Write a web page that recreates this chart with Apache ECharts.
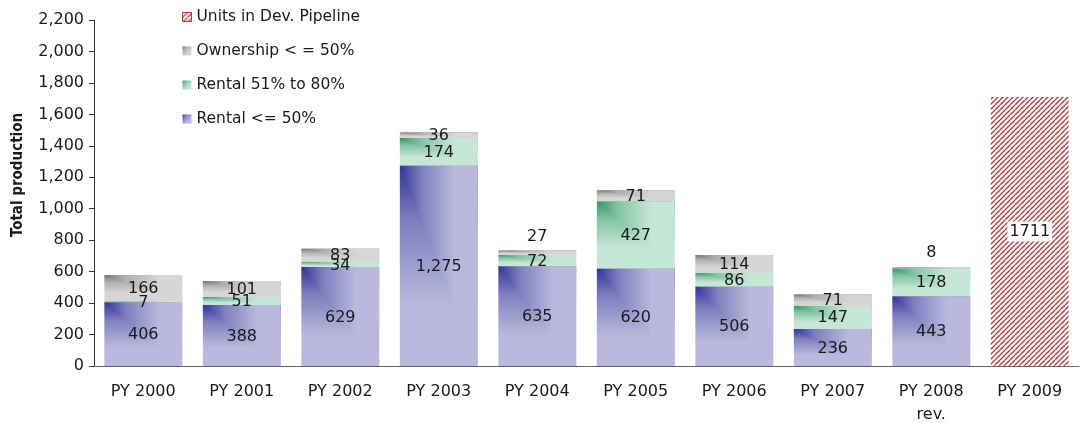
<!DOCTYPE html>
<html>
<head>
<meta charset="utf-8">
<script src="https://cdn.jsdelivr.net/npm/echarts@6/dist/echarts.min.js"></script>
<style>
  html, body { margin: 0; padding: 0; background: #fff; }
  #chart { width: 1081px; height: 423px; }
</style>
</head>
<body>
<div id="chart"></div>
<script>
// 数据
var categories = ["PY 2000", "PY 2001", "PY 2002", "PY 2003", "PY 2004", "PY 2005", "PY 2006", "PY 2007", "PY 2008\nrev.", "PY 2009"];
var rentalLow = [406, 388, 629, 1275, 635, 620, 506, 236, 443, null];
var rentalMid = [7, 51, 34, 174, 72, 427, 86, 147, 178, null];
var ownership = [166, 101, 83, 36, 27, 71, 114, 71, 8, null];
var pipeline = [null, null, null, null, null, null, null, null, null, 1711];
var yTicks = [0, 200, 400, 600, 800, 1000, 1200, 1400, 1600, 1800, 2000, 2200];

var FONT = "DejaVu Sans";
var FS = 16;
var BAR_RATIO = 0.79;

// 颜色（深色在左上角）
var COLORS = {
  low: ["#333399", "#7f7fbf", "#b9b9dd"],
  mid: ["#339966", "#86c5a5", "#c6e6d6"],
  own: ["#777777", "#b0b0b0", "#d6d6d6"]
};

function grad(c, x2, y2) {
  return new echarts.graphic.LinearGradient(0, 0, x2, y2, [
    { offset: 0, color: c[0] },
    { offset: 0.28, color: c[1] },
    { offset: 0.7, color: c[2] },
    { offset: 1, color: c[2] }
  ]);
}

// 斜线填充
var hatch = document.createElement("canvas");
hatch.width = 5;
hatch.height = 5;
var hc = hatch.getContext("2d");
hc.fillStyle = "#ffffff";
hc.fillRect(0, 0, 5, 5);
hc.strokeStyle = "#ad3a3a";
hc.lineWidth = 1.3;
[-5, 0, 5].forEach(function (o) {
  hc.beginPath();
  hc.moveTo(o, 5);
  hc.lineTo(o + 5, 0);
  hc.stroke();
});

// 堆叠底部
var baseMid = rentalLow.map(function (v) { return v || 0; });
var baseOwn = rentalLow.map(function (v, i) { return (v || 0) + (rentalMid[i] || 0); });
var zeros = rentalLow.map(function () { return 0; });

function layerData(values, bases) {
  var out = [];
  values.forEach(function (v, i) {
    if (v != null) out.push([i, bases[i], bases[i] + v, v]);
  });
  return out;
}

function makeRender(colors, labelAbove) {
  return function (params, api) {
    var i = api.value(0);
    var lo = api.value(1);
    var hi = api.value(2);
    var v = api.value(3);
    var p0 = api.coord([i, lo]);
    var p1 = api.coord([i, hi]);
    var w = api.size([1, 0])[0] * BAR_RATIO;
    var x0 = p0[0] - w / 2;
    var x1 = x0 + w;
    var yTop = p1[1];
    var yBot = p0[1];
    var above = labelAbove && labelAbove.indexOf(i) >= 0;
    return {
      type: "group",
      children: [
        {
          // 下半：竖向渐变
          type: "rect",
          shape: { x: x0, y: yTop, width: w, height: yBot - yTop },
          style: { fill: grad(colors, 0, 1) }
        },
        {
          // 右上三角：横向渐变
          type: "polygon",
          shape: { points: [[x0, yTop], [x1, yTop], [x1, yBot]] },
          style: { fill: grad(colors, 1, 0) }
        },
        {
          type: "text",
          z2: 100,
          style: {
            text: v.toLocaleString("en-US"),
            x: p0[0],
            y: above ? yTop - 14 : (yTop + yBot) / 2 + 1,
            align: "center",
            verticalAlign: "middle",
            fontFamily: FONT,
            fontSize: FS,
            fill: "#1a1a1a"
          }
        }
      ]
    };
  };
}

var chart = echarts.init(document.getElementById("chart"));

chart.setOption({
  animation: false,
  grid: { left: 94, right: 2, top: 20, bottom: 57, outerBoundsMode: "none" },
  legend: {
    orient: "vertical",
    left: 177,
    top: 4,
    itemWidth: 9,
    itemHeight: 9,
    itemGap: 18,
    textStyle: { fontFamily: FONT, fontSize: 15.5, color: "#1a1a1a" },
    data: [
      { name: "Units in Dev. Pipeline", icon: "rect",
        itemStyle: { color: { image: hatch, repeat: "repeat" }, borderColor: "#ad3a3a", borderWidth: 1 } },
      { name: "Ownership < = 50%", icon: "rect", itemStyle: { color: grad(COLORS.own, 1, 1) } },
      { name: "Rental 51% to 80%", icon: "rect", itemStyle: { color: grad(COLORS.mid, 1, 1) } },
      { name: "Rental <= 50%", icon: "rect", itemStyle: { color: grad(COLORS.low, 1, 1) } }
    ]
  },
  xAxis: {
    type: "category",
    data: categories,
    axisLine: { lineStyle: { color: "#666" } },
    axisTick: { length: 6, lineStyle: { color: "#666" } },
    axisLabel: {
      margin: 14,
      color: "#1a1a1a",
      fontFamily: FONT,
      fontSize: FS,
      lineHeight: 23
    }
  },
  yAxis: {
    type: "value",
    min: 0,
    max: 2200,
    interval: 200,
    splitLine: { show: false },
    axisLine: { show: true, lineStyle: { color: "#333" } },
    axisTick: { show: true, length: 5, lineStyle: { color: "#333" } },
    axisLabel: {
      margin: 10,
      color: "#1a1a1a",
      fontFamily: FONT,
      fontSize: FS,
      formatter: function (v) {
        return yTicks.indexOf(v) >= 0 ? v.toLocaleString("en-US") : "";
      }
    }
  },
  graphic: [
    {
      type: "text",
      x: 18,
      y: 175,
      rotation: Math.PI / 2,
      style: {
        text: "Total production",
        fontFamily: "DejaVu Sans Condensed, DejaVu Sans",
        fontSize: 15,
        fontWeight: "bold",
        fill: "#1a1a1a",
        align: "center",
        verticalAlign: "middle"
      }
    }
  ],
  series: [
    {
      name: "Rental <= 50%",
      type: "custom",
      itemStyle: { color: grad(COLORS.low, 1, 1) },
      encode: { x: 0, y: [1, 2] },
      data: layerData(rentalLow, zeros),
      renderItem: makeRender(COLORS.low)
    },
    {
      name: "Rental 51% to 80%",
      type: "custom",
      itemStyle: { color: grad(COLORS.mid, 1, 1) },
      encode: { x: 0, y: [1, 2] },
      data: layerData(rentalMid, baseMid),
      renderItem: makeRender(COLORS.mid)
    },
    {
      name: "Ownership < = 50%",
      type: "custom",
      itemStyle: { color: grad(COLORS.own, 1, 1) },
      encode: { x: 0, y: [1, 2] },
      data: layerData(ownership, baseOwn),
      // 27 和 8 标在柱顶上方
      renderItem: makeRender(COLORS.own, [4, 8])
    },
    {
      name: "Units in Dev. Pipeline",
      type: "bar",
      barWidth: "79%",
      data: pipeline,
      itemStyle: { color: { image: hatch, repeat: "repeat" } },
      label: {
        show: true,
        position: "inside",
        color: "#1a1a1a",
        fontFamily: FONT,
        fontSize: FS,
        backgroundColor: "#fff",
        padding: [3, 2, 1, 2],
        formatter: function (p) { return p.value == null ? "" : String(p.value); }
      }
    }
  ]
});
</script>
</body>
</html>
